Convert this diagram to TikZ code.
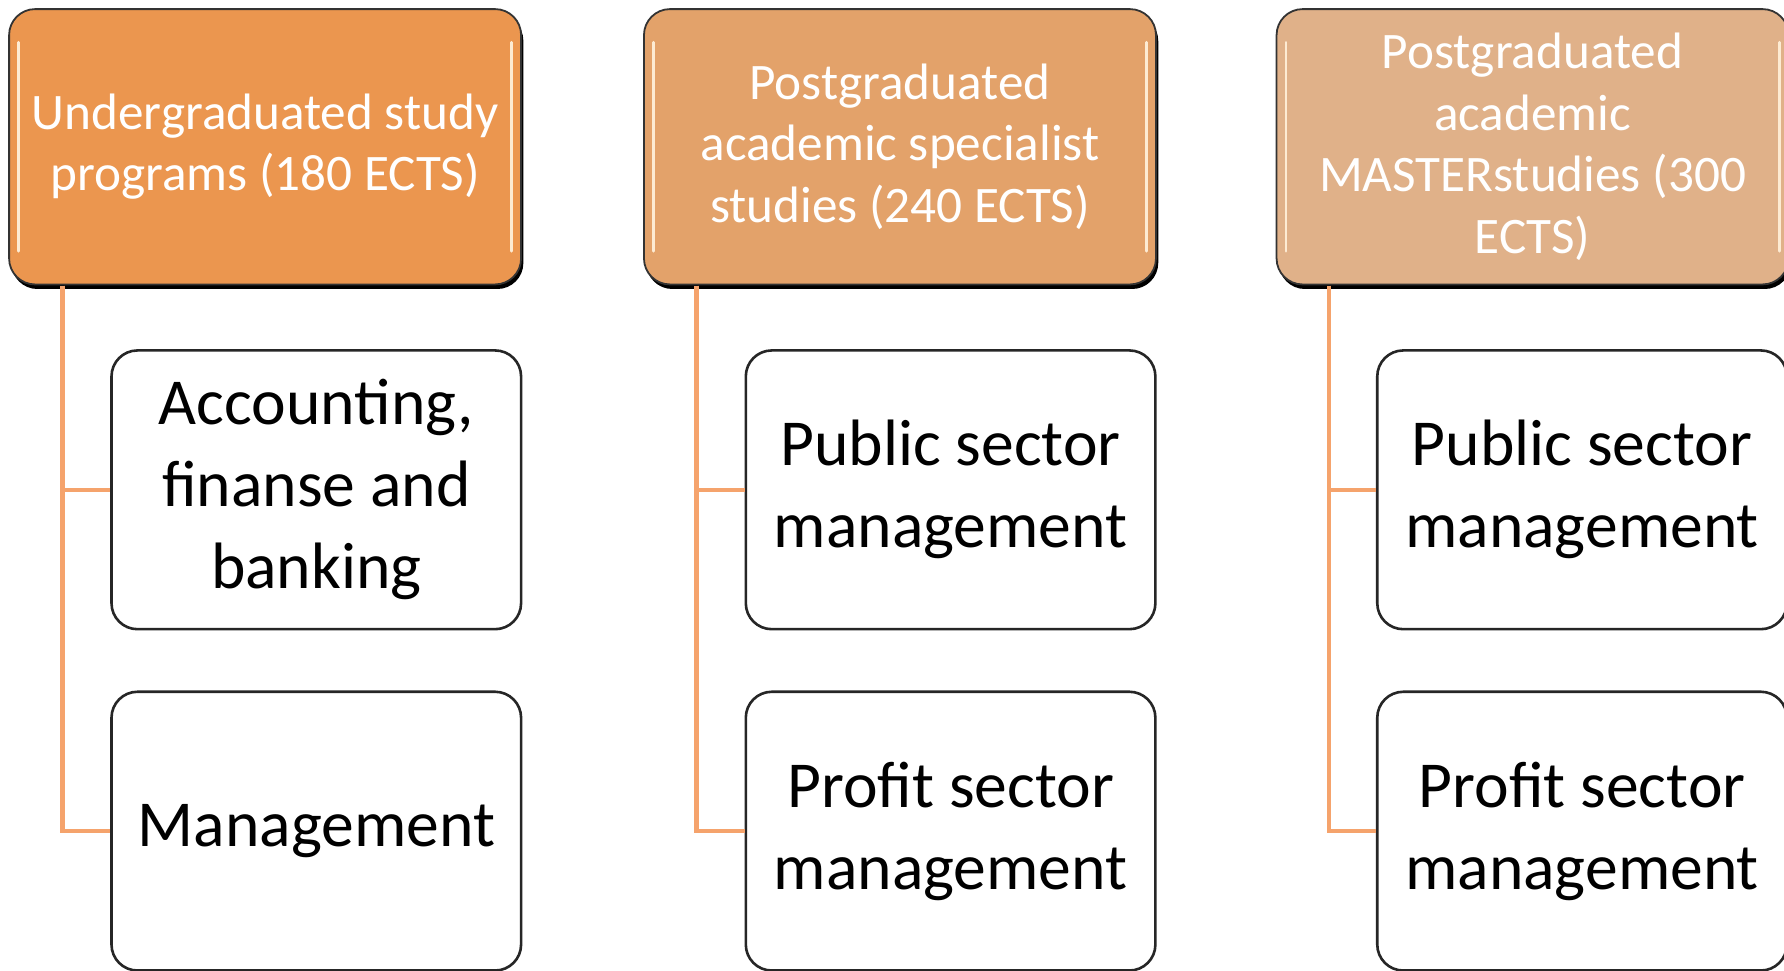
\documentclass[tikz,border=0pt]{standalone}
\usepackage{fontspec}
\setmainfont{Carlito}
\definecolor{topA}{HTML}{EB964F}
\definecolor{topB}{HTML}{E3A26A}
\definecolor{topC}{HTML}{E0B189}
\definecolor{link}{HTML}{F5A36C}
\definecolor{gloss}{HTML}{FDEBD3}
\tikzset{
  headbox/.style={rounded corners=13pt, minimum width=450*0.5689pt, minimum height=242*0.5689pt,
    draw=black!80, line width=0.9pt, text=white, align=center, inner sep=0pt,
    font=\fontsize{25.6}{30.8}\selectfont},
  childbox/.style={rounded corners=13pt, minimum width=360*0.5689pt, minimum height=245*0.5689pt,
    draw=black!85, line width=1.3pt, fill=white, align=center, inner sep=0pt,
    font=\fontsize{32.8}{41}\selectfont},
  linkline/.style={draw=link, line width=2.3pt},
  glossline/.style={draw=gloss, line width=1.4pt, line cap=round}
}
\begin{document}
\begin{tikzpicture}[x=0.5689pt, y=-0.5689pt]
\useasboundingbox (0,0) rectangle (1568,853.4);
\fill[white] (0,0) rectangle (1568,853.4);
% shadows of head boxes
\foreach \cx in {233,791,1347}{
  \fill[black, rounded corners=13pt] (\cx-225+2,8+5) rectangle (\cx+225+2,250+4);
}
\node[headbox, fill=topA] (h1) at (233,129) {Undergraduated study\\programs (180 ECTS)};
\node[headbox, fill=topB] (h2) at (791,129) {Postgraduated\\academic specialist\\studies (240 ECTS)};
\node[headbox, fill=topC] (h3) at (1347,129) {Postgraduated\\academic\\MASTERstudies (300\\ECTS)};
% gloss highlights
\foreach \n in {h1,h2,h3}{
  \draw[glossline] ([xshift=9*0.5689pt, yshift=-30*0.5689pt]\n.north west) -- ([xshift=9*0.5689pt, yshift=30*0.5689pt]\n.south west);
  \draw[glossline] ([xshift=-9*0.5689pt, yshift=-30*0.5689pt]\n.north east) -- ([xshift=-9*0.5689pt, yshift=30*0.5689pt]\n.south east);
}
% child boxes
\node[childbox] (c1a) at (278,430.5) {Accounting,\\finanse and\\banking};
\node[childbox] (c1b) at (278,730.5) {Management};
\node[childbox] (c2a) at (835.5,430.5) {Public sector\\management};
\node[childbox] (c2b) at (835.5,730.5) {Profit sector\\management};
\node[childbox] (c3a) at (1390.5,430.5) {Public sector\\management};
\node[childbox] (c3b) at (1390.5,730.5) {Profit sector\\management};
% connectors
\coordinate (s1) at (55,251);
\coordinate (s2) at (612,251);
\coordinate (s3) at (1168,251);
\draw[linkline] (s1) |- (c1a.west);
\draw[linkline] (s1) |- (c1b.west);
\draw[linkline] (s2) |- (c2a.west);
\draw[linkline] (s2) |- (c2b.west);
\draw[linkline] (s3) |- (c3a.west);
\draw[linkline] (s3) |- (c3b.west);
\end{tikzpicture}
\end{document}
